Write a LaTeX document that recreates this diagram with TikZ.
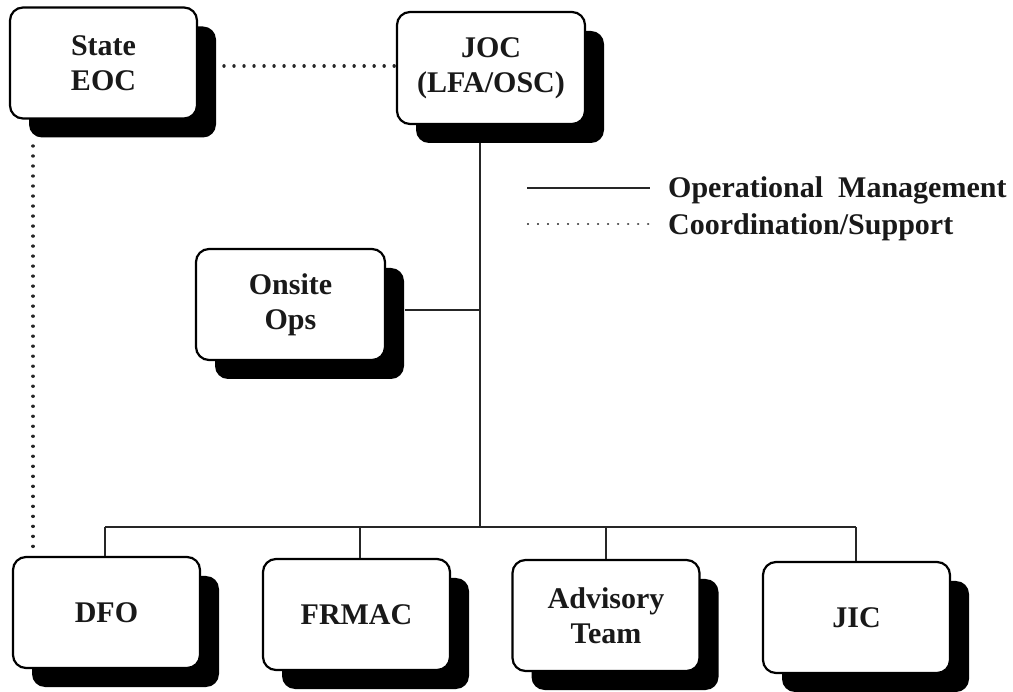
\documentclass[tikz,border=0pt]{standalone}
\usepackage{fontspec}
\setmainfont{Liberation Serif}
\usetikzlibrary{shadows}
\begin{document}
\begin{tikzpicture}[x=1pt,y=-1pt,
  box/.style={draw=black, line width=2.2pt, fill=white, rounded corners=13pt,
    minimum width=187pt, minimum height=111pt, inner sep=0pt, align=center,
    font=\fontsize{30}{35}\selectfont\bfseries, text=black!90,
    general shadow={shadow xshift=19pt, shadow yshift=-19pt, fill=black, opacity=1}},
  solidlink/.style={line width=2pt, black!85},
  dotlink/.style={line width=3.4pt, black!85, line cap=round, dash pattern=on 0.01pt off 10pt},
  legtext/.style={anchor=base west, inner sep=0pt, font=\fontsize{30}{35}\selectfont\bfseries, text=black!90}]
\useasboundingbox (0,0) rectangle (1013,692);
% connectors (drawn first)
\coordinate (trunktop) at (480,124);
\coordinate (trunkbot) at (480,527);
\coordinate (onsitejoin) at (480,310);
\coordinate (busleft) at (105,527);
\coordinate (busright) at (856,527);
\draw[solidlink] (trunktop) -- (trunkbot);
\draw[solidlink] (busleft) -- (busright);
% nodes
\node[box] (seoc) at (103.5,63) {State\\EOC};
\node[box, minimum width=188pt, minimum height=112pt] (joc) at (491,68) {JOC\\(LFA/OSC)};
\node[box, minimum width=189pt] (onsite) at (290.5,304.5) {Onsite\\Ops};
\node[box] (dfo) at (106.5,612.5) {DFO};
\node[box] (frmac) at (356.5,614.5) {FRMAC};
\node[box] (adv) at (606,615.5) {Advisory\\Team};
\node[box] (jic) at (856.5,617.5) {JIC};
% solid links
\draw[solidlink] (onsite.east |- onsitejoin) ++(19,0) -- (onsitejoin);
\draw[solidlink] (busleft) -- (dfo.north -| busleft);
\draw[solidlink] (frmac.north -| 360,0) -- (360,527);
\draw[solidlink] (adv.north) -- (adv.north |- busleft);
\draw[solidlink] (jic.north -| busright) -- (busright);
% dotted links
\coordinate (dotA) at (224,66);
\draw[dotlink] (dotA) -- (dotA -| joc.west);
\coordinate (dotB) at (33,146);
\draw[dotlink] (dotB) -- (dfo.north -| dotB);
% legend
\coordinate (l1a) at (527,188);
\coordinate (l1b) at (650,188);
\coordinate (l2a) at (528,224);
\coordinate (l2b) at (650,224);
\draw[solidlink] (l1a) -- (l1b);
\draw[dotlink, line width=2.4pt] (l2a) -- (l2b);
\node[legtext] (leg1) at (668,198) {Operational\ \ Management};
\node[legtext] (leg2) at (668,235) {Coordination/Support};
\end{tikzpicture}
\end{document}
